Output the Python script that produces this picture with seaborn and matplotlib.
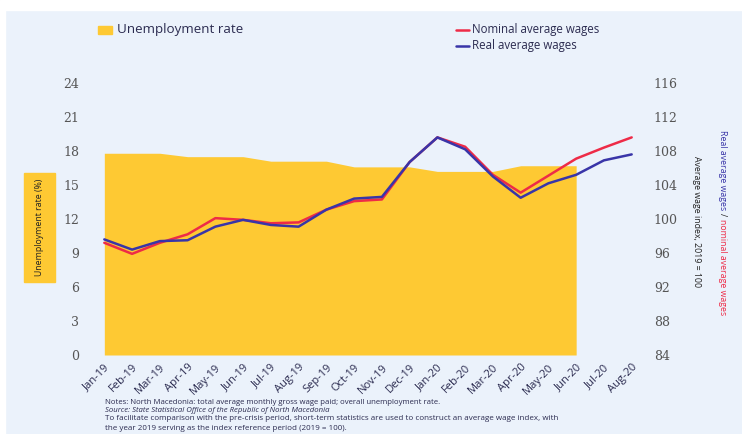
import matplotlib
matplotlib.use("Agg")
import matplotlib.pyplot as plt
import seaborn as sns
import pandas as pd
import numpy as np

months = ["Jan-19", "Feb-19", "Mar-19", "Apr-19", "May-19", "Jun-19", "Jul-19", "Aug-19",
          "Sep-19", "Oct-19", "Nov-19", "Dec-19", "Jan-20", "Feb-20", "Mar-20", "Apr-20",
          "May-20", "Jun-20", "Jul-20", "Aug-20"]
unemployment = [17.8, 17.8, 17.8, 17.5, 17.5, 17.5, 17.1, 17.1, 17.1, 16.6, 16.6, 16.6,
                16.2, 16.2, 16.2, 16.7, 16.7, 16.7]
nominal = [97.2, 95.9, 97.2, 98.2, 100.1, 99.9, 99.5, 99.6, 101.1, 102.1, 102.3, 106.7,
           109.6, 108.5, 105.2, 103.1, 105.1, 107.1, 108.4, 109.6]
real = [97.6, 96.4, 97.4, 97.5, 99.1, 99.9, 99.3, 99.1, 101.1, 102.4, 102.6, 106.7,
        109.6, 108.2, 105.0, 102.5, 104.2, 105.2, 106.9, 107.6]

BG = "#EBF2FB"
YEL = "#FEC933"
RED = "#EE2B47"
BLUE = "#3935A8"
TXT = "#555555"
DARK = "#2B2B50"
SERIF = ["DejaVu Serif"]

sns.set_theme(style="white")
plt.rcParams["font.family"] = ["Open Sans", "DejaVu Sans"]

fig = plt.figure(figsize=(7.42, 4.34), dpi=100)
fig.patch.set_facecolor(BG)
fig.patches.append(plt.Rectangle((0, 1 - 10 / 434), 1, 10 / 434, transform=fig.transFigure,
                                 color="white", zorder=0))
fig.patches.append(plt.Rectangle((0, 0), 5 / 742, 1, transform=fig.transFigure,
                                 color="white", zorder=0))

ax = fig.add_axes([96 / 742, 1 - 355 / 434, 544 / 742, 272 / 434])
ax.set_facecolor(BG)
x = np.arange(len(months))
ux = np.arange(len(unemployment))
ax.fill_between(ux, 0, unemployment, color=YEL, lw=0, zorder=1)
ax.set_ylim(0, 24)
ax.set_yticks(range(0, 25, 3))
ax.set_xlim(-0.3, len(months) - 1 + 0.3)
ax.set_xticks(x)
ax.set_xticklabels(months, rotation=45, ha="right", rotation_mode="anchor",
                   fontsize=8, color=DARK)
for lab in ax.get_yticklabels():
    lab.set_family(SERIF)
for s in ax.spines.values():
    s.set_visible(False)
ax.tick_params(axis="both", length=0)
ax.tick_params(axis="y", pad=12, colors=TXT, labelsize=9)
ax.tick_params(axis="x", pad=5)

ax2 = ax.twinx()
df = pd.DataFrame({"month": x, "Nominal average wages": nominal, "Real average wages": real})
sns.lineplot(data=df, x="month", y="Nominal average wages", ax=ax2, color=RED, lw=1.8)
sns.lineplot(data=df, x="month", y="Real average wages", ax=ax2, color=BLUE, lw=1.8)
ax2.set_ylim(84, 116)
ax2.set_yticks(range(84, 117, 4))
ax2.set_ylabel("")
ax2.set_xlabel("")
ax.set_xlabel("")
for s in ax2.spines.values():
    s.set_visible(False)
ax2.tick_params(axis="y", length=0, colors=TXT, labelsize=9, pad=10)
for lab in ax2.get_yticklabels():
    lab.set_family(SERIF)
ax2.set_xlim(ax.get_xlim())

# left axis label in yellow box
fig.patches.append(plt.Rectangle((24 / 742, 1 - 282 / 434), 31 / 742, 109 / 434,
                                 transform=fig.transFigure, color=YEL, zorder=1))
fig.text(39.5 / 742, 1 - 227 / 434, "Unemployment rate (%)", rotation=90, ha="center",
         va="center", fontsize=6.3, color="#222222", zorder=2)
# right axis labels
fig.text(696 / 742, 1 - 222 / 434, "Average wage index, 2019 = 100", rotation=270,
         ha="center", va="center", fontsize=6.3, color="#222222")

renderer = fig.canvas.get_renderer()
ypos = 130
for txt, col in [("Real average wages", BLUE), ("/", "#222222"), ("nominal average wages", RED)]:
    t = fig.text(722 / 742, 1 - ypos / 434, txt, rotation=270, ha="center", va="top",
                 fontsize=6.3, color=col)
    bb = t.get_window_extent(renderer)
    ypos += bb.height + 3

# legend
fig.patches.append(plt.Rectangle((98 / 742, 1 - 34 / 434), 14 / 742, 8 / 434,
                                 transform=fig.transFigure, color=YEL))
fig.text(117 / 742, 1 - 30 / 434, "Unemployment rate", ha="left", va="center",
         fontsize=9.6, color=DARK)
fig.lines.append(plt.Line2D([456 / 742, 469 / 742], [1 - 30 / 434] * 2,
                            transform=fig.transFigure, color=RED, lw=1.8))
fig.lines.append(plt.Line2D([456 / 742, 469 / 742], [1 - 46 / 434] * 2,
                            transform=fig.transFigure, color=BLUE, lw=1.8))
fig.text(472 / 742, 1 - 30 / 434, "Nominal average wages", ha="left", va="center",
         fontsize=8.3, color=DARK)
fig.text(472 / 742, 1 - 46 / 434, "Real average wages", ha="left", va="center",
         fontsize=8.3, color=DARK)

# notes
fig.text(105 / 742, 1 - 403 / 434,
         "Notes: North Macedonia: total average monthly gross wage paid; overall unemployment rate.",
         ha="left", va="center", fontsize=5.6, color=DARK)
fig.text(105 / 742, 1 - 410 / 434,
         "Source: State Statistical Office of the Republic of North Macedonia",
         ha="left", va="center", fontsize=5.6, color=DARK, style="italic")
fig.text(105 / 742, 1 - 419 / 434,
         "To facilitate comparison with the pre-crisis period, short-term statistics are used to construct an average wage index, with",
         ha="left", va="center", fontsize=5.8, color=DARK)
fig.text(105 / 742, 1 - 428 / 434,
         "the year 2019 serving as the index reference period (2019 = 100).",
         ha="left", va="center", fontsize=5.8, color=DARK)

fig.savefig("out.png", dpi=100, facecolor=fig.get_facecolor())
